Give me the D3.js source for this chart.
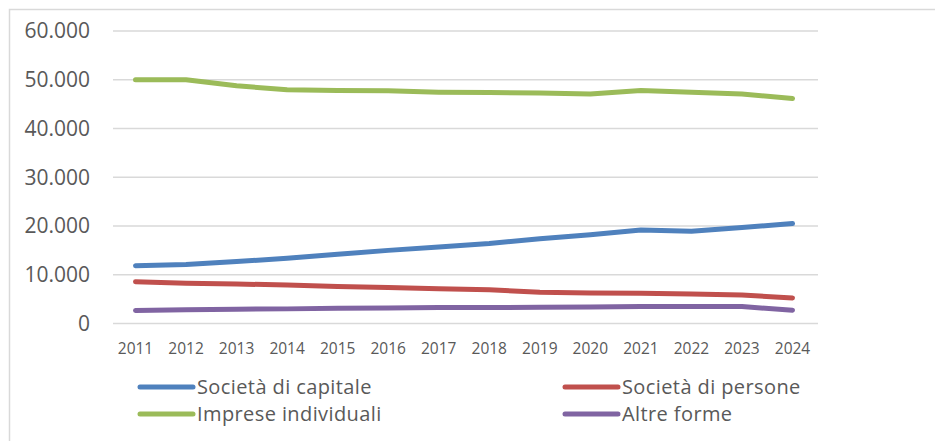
<!DOCTYPE html>
<html>
<head>
<meta charset="utf-8">
<script src="https://cdn.jsdelivr.net/npm/d3@7"></script>
<style>
  html, body { margin: 0; padding: 0; background: #fff; }
  svg { display: block; }
  text { font-family: "Open Sans", "Noto Sans", sans-serif; fill: #595959; }
</style>
</head>
<body>
<svg id="chart" width="935" height="441"></svg>
<script>
// Imprese per forma giuridica, 2011-2024
const years = ["2011","2012","2013","2014","2015","2016","2017","2018","2019","2020","2021","2022","2023","2024"];
const seriesNames = ["Società di capitale", "Società di persone", "Imprese individuali", "Altre forme"];
const societaCapitale = [11840, 12100, 12700, 13400, 14200, 15000, 15700, 16400, 17400, 18200, 19200, 18900, 19700, 20500];
const societaPersone = [8570, 8240, 8100, 7900, 7600, 7400, 7150, 6900, 6400, 6260, 6200, 6060, 5860, 5240];
const impreseIndividuali = [50000, 50000, 48760, 47930, 47800, 47730, 47460, 47380, 47300, 47100, 47800, 47460, 47100, 46150];
const altreForme = [2650, 2800, 2940, 3000, 3140, 3200, 3270, 3270, 3330, 3400, 3470, 3470, 3470, 2730];
const yTicks = [0, 10000, 20000, 30000, 40000, 50000, 60000];
const colors = ["#4f81bd", "#c0504d", "#9bbb59", "#8064a2"];

const series = [
  { name: seriesNames[0], values: societaCapitale, color: colors[0] },
  { name: seriesNames[1], values: societaPersone, color: colors[1] },
  { name: seriesNames[2], values: impreseIndividuali, color: colors[2] },
  { name: seriesNames[3], values: altreForme, color: colors[3] }
];

const svg = d3.select("#chart");

// outer frame of the chart area
svg.append("rect")
  .attr("x", 9.5).attr("y", 9.5)
  .attr("width", 1000).attr("height", 1000)
  .attr("fill", "none").attr("stroke", "#d9d9d9").attr("stroke-width", 1.5);

const x = d3.scalePoint().domain(years).range([135.5, 792.5]);
const y = d3.scaleLinear().domain([0, 60000]).range([323.5, 31]);
const gridLeft = 113, gridRight = 818;

// horizontal gridlines
svg.append("g").selectAll("line")
  .data(yTicks).join("line")
  .attr("x1", gridLeft).attr("x2", gridRight)
  .attr("y1", d => y(d)).attr("y2", d => y(d))
  .attr("stroke", "#d9d9d9").attr("stroke-width", 1.5);

// y axis labels
const fmt = d => d === 0 ? "0" : d3.format(",")(d).replace(/,/g, ".");
svg.append("g").selectAll("text")
  .data(yTicks).join("text")
  .attr("x", 90).attr("y", d => y(d))
  .attr("dy", "0.35em")
  .attr("text-anchor", "end")
  .style("font-size", "21px")
  .text(fmt);

// x axis labels
svg.append("g").selectAll("text")
  .data(years).join("text")
  .attr("x", d => x(d)).attr("y", 354)
  .attr("text-anchor", "middle")
  .style("font-size", "15.5px")
  .text(d => d);

// series lines
const line = d3.line()
  .x((d, i) => x(years[i]))
  .y(d => y(d));

svg.append("g").selectAll("path")
  .data(series).join("path")
  .attr("d", s => line(s.values))
  .attr("fill", "none")
  .attr("stroke", s => s.color)
  .attr("stroke-width", 5)
  .attr("stroke-linecap", "round")
  .attr("stroke-linejoin", "round");

// legend, two columns by two rows
const legendPos = [
  { x: 140, y: 387 }, { x: 565, y: 387 },
  { x: 140, y: 414 }, { x: 565, y: 414 }
];
const legend = svg.append("g").selectAll("g")
  .data(series).join("g")
  .attr("transform", (s, i) => `translate(${legendPos[i].x},${legendPos[i].y})`);
legend.append("line")
  .attr("x1", 0).attr("x2", 53).attr("y1", 0).attr("y2", 0)
  .attr("stroke", s => s.color).attr("stroke-width", 5)
  .attr("stroke-linecap", "round");
legend.append("text")
  .attr("x", 57).attr("y", 0).attr("dy", "0.35em")
  .style("font-size", "20px")
  .style("letter-spacing", "0.4px")
  .text(s => s.name);
</script>
</body>
</html>
